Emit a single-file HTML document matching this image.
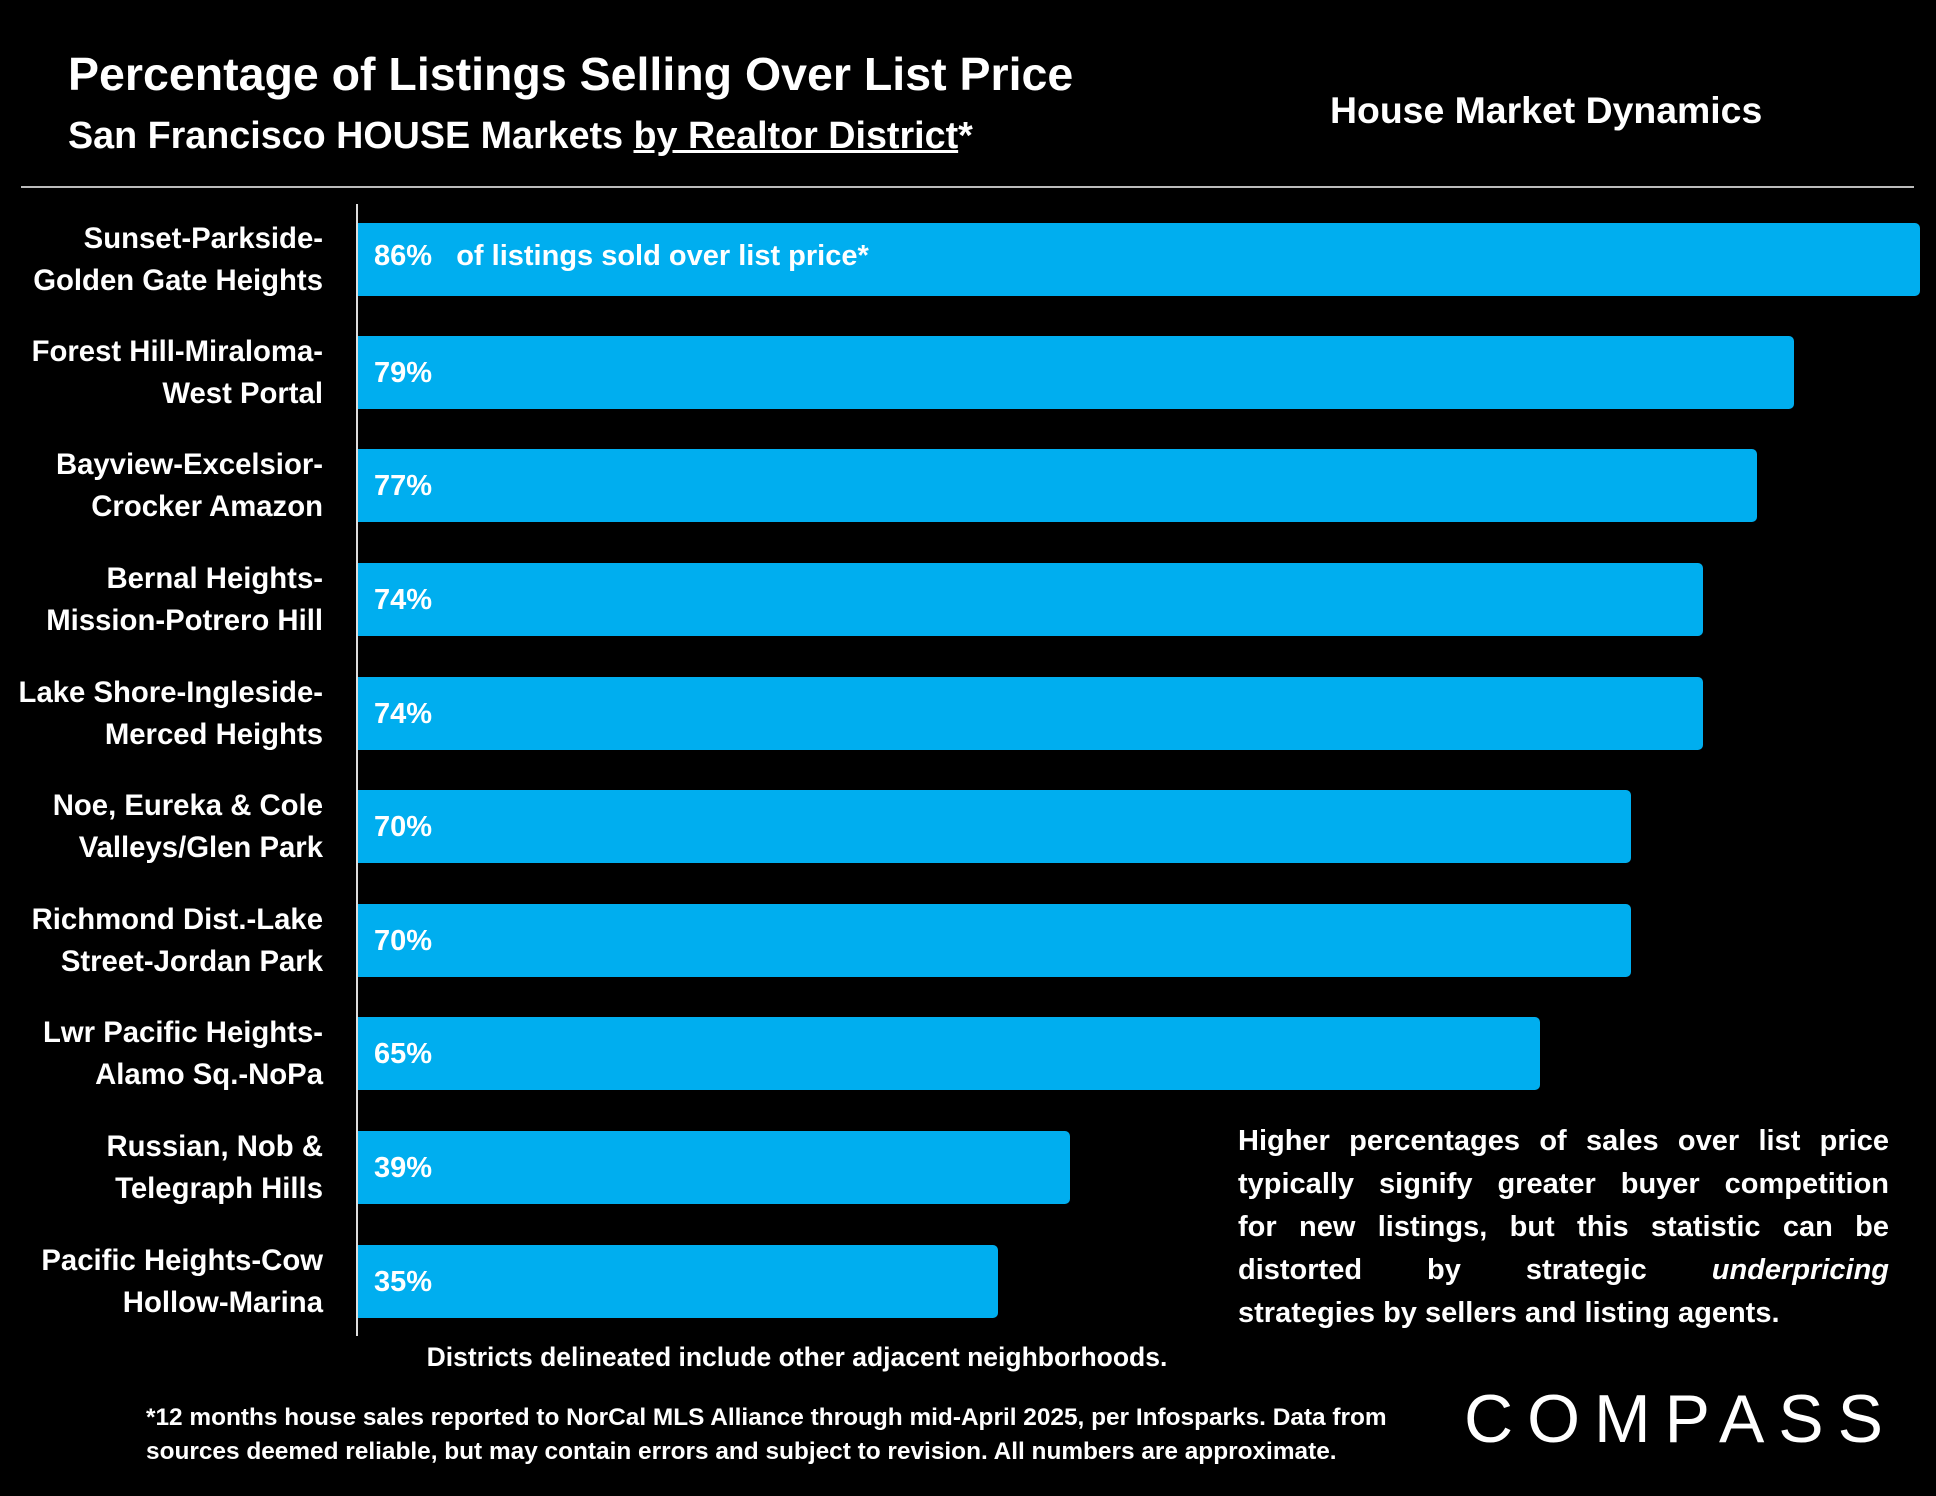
<!DOCTYPE html>
<html><head><style>
body{margin:0;width:1936px;height:1496px;background:#000;position:relative;overflow:hidden;font-family:"Liberation Sans",sans-serif;color:#fff;font-weight:bold}
.a{position:absolute;white-space:nowrap}
.bar{position:absolute;left:358px;height:73px;background:#00aeef;border-radius:0 5px 5px 0}
.v{position:absolute;left:374px;font-size:29px;line-height:73px}
.lab{position:absolute;right:1613px;text-align:right;font-size:29.3px;line-height:42px}
.j{text-align:justify;text-align-last:justify;width:651px;height:43px}
</style></head><body>
<div class="a" style="left:68px;top:47px;font-size:46.5px">Percentage of Listings Selling Over List Price</div>
<div class="a" style="left:68px;top:114px;font-size:37.7px">San Francisco HOUSE Markets <span style="text-decoration:underline">by Realtor District</span>*</div>
<div class="a" style="left:1330px;top:89px;font-size:37.4px">House Market Dynamics</div>
<div class="a" style="left:21px;top:186px;width:1893px;height:2px;background:#bbb"></div>
<div class="a" style="left:356px;top:204px;width:2px;height:1132px;background:#ddd"></div>

<div class="bar" style="top:223px;width:1562px"></div><div class="v" style="top:220px">86% &nbsp;&nbsp;of listings sold over list price*</div>
<div class="bar" style="top:336px;width:1436px"></div><div class="v" style="top:337px">79%</div>
<div class="bar" style="top:449px;width:1399px"></div><div class="v" style="top:450px">77%</div>
<div class="bar" style="top:563px;width:1345px"></div><div class="v" style="top:564px">74%</div>
<div class="bar" style="top:677px;width:1345px"></div><div class="v" style="top:678px">74%</div>
<div class="bar" style="top:790px;width:1273px"></div><div class="v" style="top:791px">70%</div>
<div class="bar" style="top:904px;width:1273px"></div><div class="v" style="top:905px">70%</div>
<div class="bar" style="top:1017px;width:1182px"></div><div class="v" style="top:1018px">65%</div>
<div class="bar" style="top:1131px;width:712px"></div><div class="v" style="top:1132px">39%</div>
<div class="bar" style="top:1245px;width:640px"></div><div class="v" style="top:1246px">35%</div>

<div class="lab" style="top:218px">Sunset-Parkside-<br>Golden Gate Heights</div>
<div class="lab" style="top:331px">Forest Hill-Miraloma-<br>West Portal</div>
<div class="lab" style="top:444px">Bayview-Excelsior-<br>Crocker Amazon</div>
<div class="lab" style="top:558px">Bernal Heights-<br>Mission-Potrero Hill</div>
<div class="lab" style="top:672px">Lake Shore-Ingleside-<br>Merced Heights</div>
<div class="lab" style="top:785px">Noe, Eureka &amp; Cole<br>Valleys/Glen Park</div>
<div class="lab" style="top:899px">Richmond Dist.-Lake<br>Street-Jordan Park</div>
<div class="lab" style="top:1012px">Lwr Pacific Heights-<br>Alamo Sq.-NoPa</div>
<div class="lab" style="top:1126px">Russian, Nob &amp;<br>Telegraph Hills</div>
<div class="lab" style="top:1240px">Pacific Heights-Cow<br>Hollow-Marina</div>

<div class="a" style="left:1238px;top:1120px;font-size:29px;line-height:43px">
<div class="j">Higher percentages of sales over list price</div>
<div class="j">typically signify greater buyer competition</div>
<div class="j">for new listings, but this statistic can be</div>
<div class="j">distorted by strategic <i>underpricing</i></div>
<div>strategies by sellers and listing agents.</div>
</div>
<div class="a" style="left:797px;top:1342px;transform:translateX(-50%);font-size:26.5px">Districts delineated include other adjacent neighborhoods.</div>
<div class="a" style="left:146px;top:1401px;font-size:24.4px;line-height:34px">*12 months house sales reported to NorCal MLS Alliance through mid-April 2025, per Infosparks. Data from<br>sources deemed reliable, but may contain errors and subject to revision. All numbers are approximate.</div>
<div class="a" style="left:1464px;top:1380px;font-size:68px;font-weight:normal;letter-spacing:14px">COMPASS</div>
</body></html>
